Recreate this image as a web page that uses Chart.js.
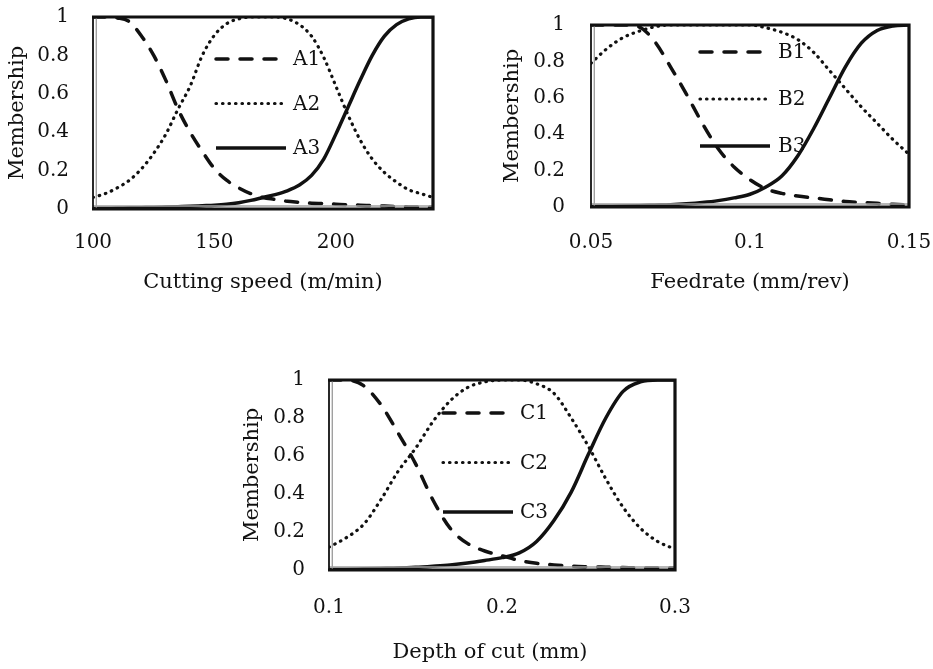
<!DOCTYPE html>
<html><head><meta charset="utf-8">
<script src="https://cdn.jsdelivr.net/npm/chart.js@4.4.1/dist/chart.umd.min.js"></script>
<style>
html,body{margin:0;padding:0;background:#fff;}
body{width:933px;height:669px;position:relative;overflow:hidden;}
.box{position:absolute;}
</style></head><body>
<div class="box" style="left:0;top:0;width:450px;height:300px"><canvas id="c1"></canvas></div>
<div class="box" style="left:480px;top:0;width:453px;height:300px"><canvas id="c2"></canvas></div>
<div class="box" style="left:230px;top:360px;width:520px;height:309px"><canvas id="c3"></canvas></div>
<script>
// ---- Data: Cutting speed ----
const speedX = [100,105,110,115,120,125,130,135,140,145,150,155,160,165,170,175,180,185,190,195,200,205,210,215,220,225,230,235,240];
const A1 = [1,1,0.995,0.975,0.9,0.8,0.67,0.52,0.4,0.3,0.21,0.15,0.11,0.08,0.06,0.05,0.04,0.035,0.03,0.028,0.025,0.022,0.02,0.017,0.015,0.013,0.011,0.01,0.009];
const A2 = [0.06,0.08,0.11,0.15,0.21,0.29,0.39,0.52,0.64,0.8,0.905,0.965,0.99,1,1,1,0.99,0.96,0.9,0.79,0.64,0.49,0.36,0.26,0.19,0.14,0.1,0.08,0.06];
const A3 = [0.003,0.004,0.005,0.006,0.007,0.008,0.01,0.012,0.014,0.017,0.02,0.025,0.033,0.045,0.06,0.075,0.095,0.125,0.175,0.26,0.39,0.53,0.67,0.8,0.9,0.96,0.99,1,1];
const speedTicks = [100,150,200];

// ---- Data: Feedrate ----
const feedX = [0.05,0.055,0.06,0.065,0.07,0.075,0.08,0.085,0.09,0.095,0.1,0.105,0.11,0.115,0.12,0.125,0.13,0.135,0.14,0.145,0.15];
const B1 = [1,1,1,0.99,0.91,0.77,0.62,0.46,0.32,0.22,0.15,0.1,0.075,0.06,0.05,0.04,0.03,0.025,0.02,0.015,0.01];
const B2 = [0.79,0.87,0.93,0.965,0.99,1,1,1,1,1,1,0.985,0.96,0.92,0.85,0.75,0.65,0.55,0.46,0.37,0.29];
const B3 = [0.003,0.004,0.005,0.007,0.01,0.013,0.018,0.025,0.035,0.05,0.07,0.11,0.17,0.28,0.43,0.6,0.77,0.9,0.97,0.995,1];
const feedTicks = [0.05,0.1,0.15];

// ---- Data: Depth of cut ----
const depthX = [0.1,0.11,0.12,0.13,0.14,0.15,0.16,0.17,0.18,0.19,0.2,0.21,0.22,0.23,0.24,0.25,0.26,0.27,0.28,0.29,0.3];
const C1 = [1,1,0.97,0.87,0.72,0.56,0.37,0.22,0.14,0.1,0.075,0.05,0.035,0.027,0.02,0.017,0.015,0.013,0.011,0.01,0.01];
const C2 = [0.12,0.17,0.24,0.37,0.52,0.64,0.78,0.89,0.96,0.99,1,1,0.98,0.93,0.8,0.65,0.48,0.33,0.22,0.15,0.11];
const C3 = [0.003,0.004,0.006,0.008,0.01,0.014,0.02,0.027,0.037,0.05,0.065,0.09,0.15,0.26,0.41,0.61,0.8,0.94,0.99,1,1];
const depthTicks = [0.1,0.2,0.3];

const yTicks = [0,0.2,0.4,0.6,0.8,1];

Chart.defaults.font.family = "'DejaVu Serif', serif";
Chart.defaults.color = '#111';

const frameLegend = {
  id: 'frameLegend',
  afterDatasetsDraw(chart, args, opts) {
    const ctx = chart.ctx, a = chart.chartArea;
    ctx.save();
    ctx.setLineDash([]);
    ctx.lineCap = 'butt';
    ctx.strokeStyle = '#a0a0a0'; ctx.lineWidth = 1.4;
    ctx.beginPath(); ctx.moveTo(a.left + 3.3, a.top); ctx.lineTo(a.left + 3.3, a.bottom); ctx.stroke();
    ctx.beginPath(); ctx.moveTo(a.left, a.bottom - 3); ctx.lineTo(a.right, a.bottom - 3); ctx.stroke();
    ctx.strokeStyle = '#111'; ctx.lineWidth = 3.2;
    ctx.beginPath(); ctx.moveTo(a.left - 1, a.top); ctx.lineTo(a.right, a.top); ctx.lineTo(a.right, a.bottom); ctx.lineTo(a.left - 1, a.bottom); ctx.stroke();
    ctx.lineWidth = 1.8;
    ctx.beginPath(); ctx.moveTo(a.left, a.top); ctx.lineTo(a.left, a.bottom); ctx.stroke();
    // legend inside plot
    chart.data.datasets.forEach((ds, i) => {
      const y = a.top + opts.dy + i * opts.gap;
      const x0 = a.left + opts.dx;
      ctx.save();
      ctx.strokeStyle = ds.borderColor;
      ctx.lineWidth = ds.borderWidth;
      ctx.lineCap = ds.borderCapStyle || 'butt';
      ctx.setLineDash(ds.borderDash || []);
      ctx.beginPath(); ctx.moveTo(x0, y); ctx.lineTo(x0 + opts.len, y); ctx.stroke();
      ctx.restore();
      ctx.fillStyle = '#111';
      ctx.font = "20px 'DejaVu Serif', serif";
      ctx.textBaseline = 'middle';
      ctx.textAlign = 'left';
      ctx.fillText(ds.label, x0 + opts.len + opts.tgap, y + 1);
    });
    ctx.restore();
  }
};

function pts(xs, ys) { return xs.map((x, i) => ({x: x, y: ys[i]})); }
function zeroPad(s) { s.paddingTop = 0; s.paddingBottom = 0; s.paddingLeft = 0; s.paddingRight = 0; }

function makeChart(id, cfg) {
  const dsStyle = [
    {borderDash: [12, 12], borderCapStyle: 'round', borderWidth: 3.5},
    {borderDash: [0.5, 6], borderCapStyle: 'round', borderWidth: 3.2},
    {borderDash: [], borderCapStyle: 'butt', borderWidth: 3.5}
  ];
  const datasets = cfg.series.map((s, i) => Object.assign({
    label: cfg.names[i],
    data: pts(cfg.xs, s),
    borderColor: '#111',
    backgroundColor: '#111',
    pointRadius: 0,
    fill: false,
    cubicInterpolationMode: 'monotone'
  }, dsStyle[i]));
  const chartTitle = !!cfg.chartTitle;
  const scales = {
    x: {
      type: 'linear',
      min: cfg.xs[0], max: cfg.xs[cfg.xs.length - 1],
      grid: {display: false, drawTicks: false},
      border: {display: false},
      afterBuildTicks: s => { s.ticks = cfg.xTicks.map(v => ({value: v})); },
      afterFit: s => { s.height = cfg.xAxisH; zeroPad(s); },
      ticks: {font: {size: 20}, padding: cfg.xTickPad, maxRotation: 0, autoSkip: false, color: '#111',
              callback: v => String(v)},
      title: {display: !chartTitle, text: cfg.xTitle, font: {size: 21}, color: '#111', padding: {top: 0, bottom: cfg.xTitlePad}}
    },
    y: {
      min: 0, max: 1,
      grid: {display: false, drawTicks: false},
      border: {display: false},
      afterBuildTicks: s => { s.ticks = yTicks.map(v => ({value: v})); },
      afterFit: s => { s.width = cfg.yAxisW; zeroPad(s); },
      ticks: {font: {size: 20}, padding: cfg.yTickPad, color: '#111', callback: v => String(v)},
      title: {display: true, text: 'Membership', font: {size: 21}, color: '#111', padding: {top: cfg.yTitlePad, bottom: 0}}
    }
  };
  if (cfg.rightSpace) {
    scales.yR = {
      position: 'right', display: true, min: 0, max: 1,
      grid: {display: false, drawTicks: false},
      border: {display: false},
      ticks: {display: false},
      afterFit: s => { s.width = cfg.rightSpace; zeroPad(s); }
    };
  }
  return new Chart(document.getElementById(id), {
    type: 'line',
    data: {datasets: datasets},
    options: {
      responsive: true,
      maintainAspectRatio: false,
      animation: false,
      events: [],
      layout: {padding: {top: cfg.padTop, right: cfg.padRight, left: 0, bottom: 0}},
      plugins: {
        legend: {display: false},
        tooltip: {enabled: false},
        title: {display: chartTitle, position: 'bottom', text: cfg.xTitle, color: '#111',
                font: {size: 21, weight: 'normal'}, padding: {top: 0, bottom: cfg.xTitlePad}},
        frameLegend: cfg.legend
      },
      scales: scales
    },
    plugins: [frameLegend]
  });
}

makeChart('c1', {
  xs: speedX, series: [A1, A2, A3], names: ['A1', 'A2', 'A3'], xTicks: speedTicks,
  xTitle: 'Cutting speed (m/min)',
  padTop: 17, padRight: 17, yAxisW: 93, xAxisH: 91,
  xTickPad: 22, xTitlePad: 4.4, yTickPad: 24, yTitlePad: 5.4,
  legend: {dx: 123, dy: 42, gap: 44.5, len: 70, tgap: 7}
});
makeChart('c2', {
  xs: feedX, series: [B1, B2, B3], names: ['B1', 'B2', 'B3'], xTicks: feedTicks,
  xTitle: 'Feedrate (mm/rev)',
  padTop: 25, padRight: 24, yAxisW: 111, xAxisH: 93,
  xTickPad: 24, xTitlePad: 4.4, yTickPad: 26, yTitlePad: 20.4,
  legend: {dx: 109, dy: 27, gap: 47, len: 70, tgap: 8}
});
makeChart('c3', {
  xs: depthX, series: [C1, C2, C3], names: ['C1', 'C2', 'C3'], xTicks: depthTicks,
  xTitle: 'Depth of cut (mm)', chartTitle: true, rightSpace: 75,
  padTop: 20, padRight: 0, yAxisW: 99, xAxisH: 70.4,
  xTickPad: 26, xTitlePad: 3.4, yTickPad: 24, yTitlePad: 10.4,
  legend: {dx: 114, dy: 33, gap: 49.5, len: 70, tgap: 7}
});
</script>
</body></html>
